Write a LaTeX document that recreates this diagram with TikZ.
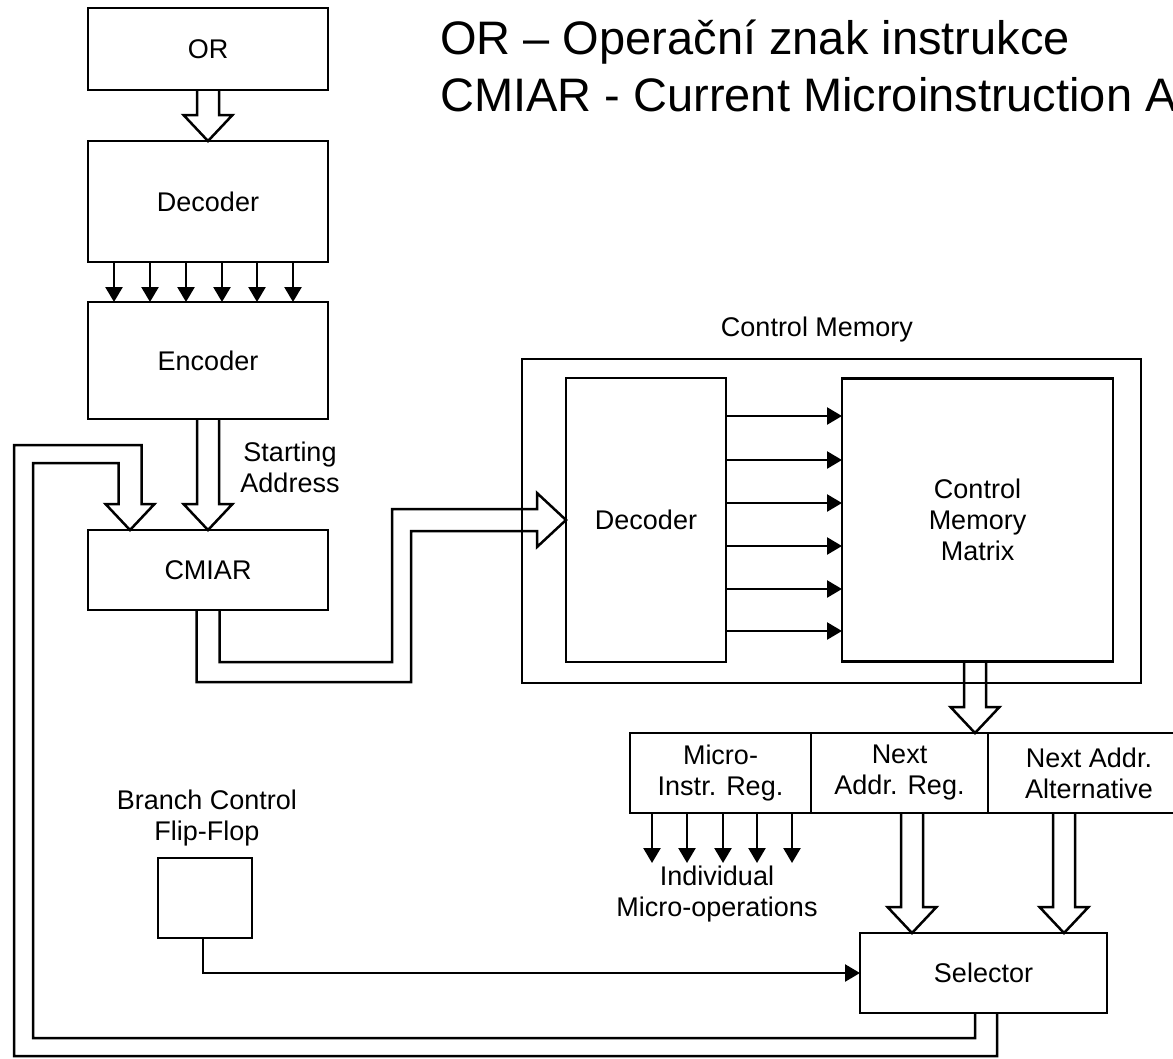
\documentclass[tikz,border=0pt]{standalone}
\usepackage{fontspec}
\setmainfont{Liberation Sans}
\usetikzlibrary{arrows.meta,calc}
\newcommand{\hollowdown}[2]{%
  \draw[hollow] ($(#1)+(-11,0)$) -- ($(#1 |- #2)+(-11,-26)$) -- ($(#1 |- #2)+(-24.5,-26)$) -- (#1 |- #2) -- ($(#1 |- #2)+(24.5,-26)$) -- ($(#1 |- #2)+(11,-26)$) -- ($(#1)+(11,0)$);}
\begin{document}
\begin{tikzpicture}[x=1pt,y=-1pt,
  box/.style={draw, line width=2.5pt, inner sep=0pt, outer sep=0pt, align=center, font=\fontsize{27}{31}\selectfont},
  lbl/.style={inner sep=0pt, align=center, font=\fontsize{27}{31}\selectfont},
  wire/.style={line width=2.5pt},
  sarr/.style={wire, -{Triangle[width=17pt,length=15pt]}},
  hollow/.style={line width=2.5pt, line join=miter},
  ttl/.style={anchor=base west, inner sep=0pt, font=\fontsize{47}{57}\selectfont}]
\useasboundingbox (0,0) rectangle (1173,1058);
\clip (0,0) rectangle (1173,1058);
% title
\node[ttl] (t1) at (440,54) {OR – Operační znak instrukce};
\node[ttl] (t2) at (440,111) {CMIAR - Current Microinstruction A};
% left column
\node[box, minimum width=240pt, minimum height=82pt] (or) at (208,49) {OR};
\node[box, minimum width=240pt, minimum height=121pt] (dec1) at (208,201.5) {Decoder};
\node[box, minimum width=240pt, minimum height=117pt] (enc) at (208,360.5) {Encoder};
\node[box, minimum width=240pt, minimum height=80pt] (cmiar) at (208,570) {CMIAR};
\node[lbl] (saddr) at (290,467) {Starting\\Address};
% control memory
\node[box, minimum width=619pt, minimum height=324pt] (cm) at (831.5,521) {};
\node[lbl] (cmlbl) at (817,330) {Control Memory};
\node[box, minimum width=160pt, minimum height=284pt] (dec2) at (646,520) {Decoder};
\node[box, minimum width=271pt, minimum height=283pt] (cmm) at (977.5,520) {Control\\Memory\\Matrix};
% registers
\node[box, minimum width=181pt, minimum height=80pt] (mir) at (720.5,773) {Micro-\\Instr. Reg.};
\node[box, minimum width=177pt, minimum height=80pt] (nar) at (899.5,773) {Next\\Addr. Reg.};
\node[box, minimum width=202pt, minimum height=80pt] (naa) at (1089,773) {Next Addr.\\Alternative};
\node[lbl] (indiv) at (717,894) {Individual\\Micro-operations};
% selector and flip-flop
\node[box, minimum width=247pt, minimum height=80pt] (sel) at (983.5,973) {Selector};
\node[box, minimum width=94pt, minimum height=80pt] (ff) at (205,898) {};
\node[lbl] (fflbl) at (207,818) {Branch Control\\Flip-Flop};
% start coordinates of hollow arrows
\coordinate (s1) at (or.south);
\coordinate (s2) at (enc.south);
\coordinate (s5) at ($(cmm.south)+(-2.5,0)$);
\coordinate (s6) at ($(nar.south)+(12.5,0)$);
\coordinate (s7) at ($(naa.south)+(-25,0)$);
\coordinate (fbtip) at ($(cmiar.north)+(-78,0)$);
\hollowdown{s1}{dec1.north}
\hollowdown{s2}{cmiar.north}
\hollowdown{s5}{nar.north}
\hollowdown{s6}{sel.north}
\hollowdown{s7}{sel.north}
% CMIAR -> control memory decoder
\draw[hollow] ($(cmiar.south)+(-11.5,0)$) |- (411,682) |- ($(dec2.west)+(-29,11)$) -- ++(0,16) -- (dec2.west) -- ($(dec2.west)+(-29,-27)$) -- ++(0,16) -| (392,662) -| ($(cmiar.south)+(11.5,0)$);
% feedback selector -> CMIAR
\draw[hollow] ($(sel.south)+(13.5,0)$) -- ++(0,43) -| (14,445) -| ($(fbtip)+(11.5,-26)$) -- ++(13,0) -- (fbtip) -- ($(fbtip)+(-24.5,-26)$) -- ++(13,0) |- (33,463) |- ($(sel.south)+(-8.5,25)$) -- ($(sel.south)+(-8.5,0)$);
% small arrows
\foreach \dx in {-94,-58,-22,14,49,85}
  \draw[sarr] ($(dec1.south)+(\dx,0)$) -- ($(enc.north)+(\dx,0)$);
\foreach \dy in {-104,-60,-17,26,69,111}
  \draw[sarr] ($(dec2.east)+(0,\dy)$) -- ($(cmm.west)+(0,\dy)$);
\foreach \dx in {-68.5,-33.5,2.5,36.5,71.5}
  \draw[sarr] ($(mir.south)+(\dx,0)$) -- ++(0,50);
\draw[sarr] ($(ff.south)+(-2,0)$) |- (sel.west);
\end{tikzpicture}
\end{document}
